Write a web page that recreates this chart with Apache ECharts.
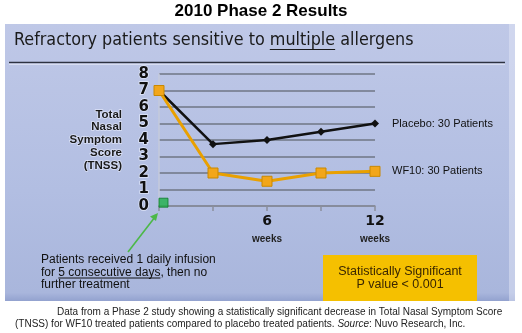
<!DOCTYPE html>
<html><head><meta charset="utf-8">
<script src="https://cdn.jsdelivr.net/npm/echarts@6/dist/echarts.min.js"></script>
<style>html,body{margin:0;padding:0;background:#fff}#c{width:522px;height:333px}</style>
</head><body><div id="c"></div>
<script>
// ---- data ----
const weeks = [0, 3, 6, 9, 12];
const placebo = [7, 3.75, 4, 4.5, 5];
const wf10 = [7, 2, 1.5, 2, 2.1];
const infusionPoint = [[0.25, 0.2]];
const xLabelWeeks = [6, 12];
const placeboLabel = 'Placebo: 30 Patients';
const wf10Label = 'WF10: 30 Patients';
const yAxisName = 'Total\nNasal\nSymptom\nScore\n(TNSS)';

const chart = echarts.init(document.getElementById('c'), null, {renderer: 'canvas'});

const cv = document.createElement('canvas').getContext('2d');
function tw(font, s) { cv.font = font; return cv.measureText(s).width; }

// subtitle fitting
const subFam = "'Liberation Sans Narrow','DejaVu Sans Condensed','Liberation Sans'";
const subPre = 'Refractory patients sensitive to ';
const subWord = 'multiple';
const subPost = ' allergens';
let subSize = 18;
const fullW = tw(subSize + 'px ' + subFam, subPre + subWord + subPost);
subSize = Math.round(subSize * 400 / fullW * 10) / 10;
const subFont = subSize + 'px ' + subFam;
const subX = 14;
const uStart = subX + tw(subFont, subPre);
const uEnd = uStart + tw(subFont, subWord);

const annFont = "12px 'Liberation Sans', Arial";
const annX = 41;
const a2Start = annX + tw(annFont, 'for ');
const a2End = a2Start + tw(annFont, '5 consecutive days');

const option = {
  animation: false,
  grid: {left: 159, right: 147, top: 74, bottom: 127},
  xAxis: {
    type: 'value', min: 0, max: 12, interval: 3,
    axisLine: {lineStyle: {color: '#8a8f9c', width: 1.5}},
    axisTick: {show: true, length: 5, lineStyle: {color: '#8a8f9c', width: 1.5}},
    splitLine: {show: false},
    axisLabel: {
      margin: 6,
      formatter: v => xLabelWeeks.includes(v) ? '{n|' + v + '}\n{w|weeks}' : '',
      rich: {
        n: {fontFamily: "'DejaVu Sans'", fontWeight: 'bold', fontSize: 14, color: '#111', lineHeight: 19},
        w: {fontFamily: "'Liberation Sans'", fontWeight: 'bold', fontSize: 10, color: '#222', lineHeight: 16}
      }
    }
  },
  yAxis: {
    type: 'value', min: 0, max: 8, interval: 1,
    name: yAxisName, nameLocation: 'middle', nameRotate: 0, nameGap: 37,
    nameTextStyle: {align: 'right', verticalAlign: 'middle', fontFamily: "'Liberation Sans'", fontWeight: 'bold',
      fontSize: 11.5, lineHeight: 12.8, color: '#1a1a1a', padding: [14, 0, 0, 0],
      textBorderColor: 'rgba(235,240,255,0.7)', textBorderWidth: 1.5},
    axisLine: {show: true, lineStyle: {color: '#c5cadb', width: 1.5}},
    axisTick: {show: false},
    splitLine: {lineStyle: {color: '#6f7684', width: 1.5}},
    axisLabel: {margin: 10, fontFamily: "'DejaVu Sans'", fontWeight: 'bold', fontSize: 15, color: '#111',
      textBorderColor: 'rgba(235,240,255,0.8)', textBorderWidth: 1.5}
  },
  graphic: [
    {type: 'rect', z: -100, shape: {x: 5, y: 24, width: 510, height: 277},
      style: {fill: new echarts.graphic.LinearGradient(0, 0, 0, 1, [
        {offset: 0, color: '#bfc8e7'}, {offset: 0.6, color: '#b2bee2'}, {offset: 0.97, color: '#a9b6dc'}, {offset: 1, color: '#93a2cf'}])}},
    {type: 'rect', z: -99, shape: {x: 509, y: 24, width: 6, height: 277}, style: {fill: 'rgba(225,230,245,0.5)'}},
    {type: 'text', left: 'center', top: 3, style: {text: '2010 Phase 2 Results', font: "bold 17px 'Liberation Sans', Arial", fill: '#000'}},
    {type: 'text', x: subX, y: 40, style: {text: subPre + subWord + subPost, font: subFont, fill: '#1a1a1a', verticalAlign: 'middle'}},
    {type: 'line', shape: {x1: uStart, y1: 49.5, x2: uEnd, y2: 49.5}, style: {stroke: '#1a1a1a', lineWidth: 1.2}},
    {type: 'line', shape: {x1: 9, y1: 62.5, x2: 505, y2: 62.5}, style: {stroke: '#2d3240', lineWidth: 1.6}},
    {type: 'line', shape: {x1: 9, y1: 64.2, x2: 505, y2: 64.2}, style: {stroke: 'rgba(240,243,252,0.8)', lineWidth: 1}},
    // annotation
    {type: 'line', shape: {x1: 128, y1: 252, x2: 155, y2: 217}, style: {stroke: '#4cb848', lineWidth: 1.6}},
    {type: 'polygon', shape: {points: [[158, 213], [150, 216.5], [156, 221]]}, style: {fill: '#4cb848'}},
    {type: 'text', x: annX, y: 260, style: {text: 'Patients received 1 daily infusion', font: annFont, fill: '#111', verticalAlign: 'middle'}},
    {type: 'text', x: annX, y: 272.5, style: {text: 'for 5 consecutive days, then no', font: annFont, fill: '#111', verticalAlign: 'middle'}},
    {type: 'line', shape: {x1: a2Start, y1: 278, x2: a2End, y2: 278}, style: {stroke: '#111', lineWidth: 1}},
    {type: 'text', x: annX, y: 285, style: {text: 'further treatment', font: annFont, fill: '#111', verticalAlign: 'middle'}},
    // significance box
    {type: 'rect', shape: {x: 323, y: 255, width: 154, height: 46}, style: {fill: '#f5c000'}},
    {type: 'text', x: 400, y: 272, style: {text: 'Statistically Significant', font: "12.5px 'Liberation Sans', Arial", fill: '#3a2600', align: 'center', verticalAlign: 'middle'}},
    {type: 'text', x: 400, y: 285, style: {text: 'P value < 0.001', font: "12.5px 'Liberation Sans', Arial", fill: '#3a2600', align: 'center', verticalAlign: 'middle'}},
    // footer
    {type: 'text', x: 57, y: 312, style: {text: 'Data from a Phase 2 study showing a statistically significant decrease in Total Nasal Symptom Score', font: "10px 'Liberation Sans', Arial", fill: '#222', verticalAlign: 'middle'}},
    {type: 'text', x: 15, y: 324, style: {text: '(TNSS) for WF10 treated patients compared to placebo treated patients. {i|Source}: Nuvo Research, Inc.',
      font: "10px 'Liberation Sans', Arial", fill: '#222', verticalAlign: 'middle',
      rich: {i: {fontStyle: 'italic', fontSize: 10, fontFamily: "'Liberation Sans', Arial", fill: '#222'}}}}
  ],
  series: [
    {type: 'line', name: 'Placebo', data: weeks.map((w, i) => [w, placebo[i]]),
      color: '#111', lineStyle: {width: 2.5, color: '#111'}, symbol: 'diamond', symbolSize: 8,
      itemStyle: {color: '#111'},
      endLabel: {show: true, formatter: placeboLabel, distance: 17, fontFamily: "'Liberation Sans'", fontSize: 11, color: '#111'}},
    {type: 'line', name: 'WF10', data: weeks.map((w, i) => [w, wf10[i]]),
      color: '#e9a000', lineStyle: {width: 3, color: '#e9a000'}, symbol: 'rect', symbolSize: 10,
      itemStyle: {color: '#f2a61a', borderColor: '#c98800', borderWidth: 1},
      endLabel: {show: true, formatter: wf10Label, distance: 17, fontFamily: "'Liberation Sans'", fontSize: 11, color: '#111'}},
    {type: 'scatter', data: infusionPoint, symbol: 'rect', symbolSize: 9,
      itemStyle: {color: '#1fb04a', borderColor: '#0c7a2c', borderWidth: 1}}
  ]
};
chart.setOption(option);
</script></body></html>
